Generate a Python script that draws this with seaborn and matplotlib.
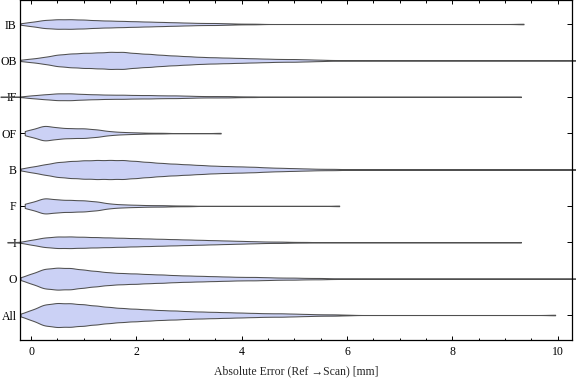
import numpy as np
import pandas as pd
import matplotlib
matplotlib.use("Agg")
import matplotlib.pyplot as plt
from matplotlib.ticker import MultipleLocator
import seaborn as sns

# categories, top to bottom
CATEGORIES = ["IB", "OB", "IF", "OF", "B", "F", "I", "O", "All"]

# bin centres in mm (0.25 mm apart, 0 .. 6 mm)
BINS = np.arange(0, 6.01, 0.25)

# relative counts per bin
IB_COUNTS = [6, 12, 14, 14, 13, 11, 10, 9, 8, 7, 6, 5, 4, 3, 3, 2, 1, 1, 0, 0, 0, 0, 0, 0, 0]
OB_COUNTS = [5, 10, 17, 20, 22, 23, 25, 25, 21, 19, 16, 14, 12, 10, 9, 8, 7, 6, 5, 4, 4, 3, 2, 1, 1]
IF_COUNTS = [4, 7, 10, 10, 8, 7, 6, 6, 5, 5, 4, 4, 3, 2, 2, 2, 1, 1, 0, 0, 0, 0, 0, 0, 0]
OF_COUNTS = [9, 21, 15, 13, 13, 10, 5, 3, 2, 1, 1, 0, 0, 0, 0, 0, 0, 0, 0, 0, 0, 0, 0, 0, 0]
B_COUNTS = [8, 15, 22, 25, 27, 28, 28, 28, 25, 22, 19, 17, 15, 13, 11, 10, 9, 8, 6, 5, 4, 3, 2, 2, 1]
F_COUNTS = [9, 22, 17, 16, 15, 12, 6, 4, 3, 2, 2, 1, 1, 0, 0, 0, 0, 0, 0, 0, 0, 0, 0, 0, 0]
I_COUNTS = [7, 14, 17, 17, 16, 15, 14, 13, 12, 11, 10, 9, 8, 7, 6, 5, 4, 3, 2, 2, 1, 1, 0, 0, 0]
O_COUNTS = [14, 29, 32, 31, 26, 22, 18, 16, 15, 13, 12, 10, 9, 8, 7, 6, 5, 5, 4, 3, 3, 2, 2, 1, 1]
ALL_COUNTS = [14, 31, 35, 34, 31, 27, 23, 20, 18, 16, 14, 13, 11, 10, 9, 8, 7, 6, 5, 5, 4, 3, 2, 2, 1]

# smallest and largest values (mm)
IB_EXTREMES = [-0.2, 9.35]
OB_EXTREMES = [-0.2, 10.4]
IF_EXTREMES = [-0.58, 9.3]
OF_EXTREMES = [-0.12, 3.6]
B_EXTREMES = [-0.2, 10.4]
F_EXTREMES = [-0.12, 5.85]
I_EXTREMES = [-0.45, 9.3]
O_EXTREMES = [-0.2, 10.4]
ALL_EXTREMES = [-0.2, 9.95]

COUNTS = [IB_COUNTS, OB_COUNTS, IF_COUNTS, OF_COUNTS, B_COUNTS,
          F_COUNTS, I_COUNTS, O_COUNTS, ALL_COUNTS]
EXTREMES = [IB_EXTREMES, OB_EXTREMES, IF_EXTREMES, OF_EXTREMES, B_EXTREMES,
            F_EXTREMES, I_EXTREMES, O_EXTREMES, ALL_EXTREMES]

FILL = "#cbd1f5"
EDGE = "#505050"
BW = 0.13          # kde bandwidth in mm
WIDEST = 0.66      # width of the widest violin (category units)

# long-form table
frames = []
for cat, counts, ext in zip(CATEGORIES, COUNTS, EXTREMES):
    vals = np.concatenate([np.repeat(BINS, counts), ext])
    frames.append(pd.DataFrame({"cat": cat, "err": vals}))
df = pd.concat(frames, ignore_index=True)
peak_max = max(max(c) for c in COUNTS)

sns.set_style("ticks")
plt.rcParams["font.family"] = ["Liberation Serif", "DejaVu Serif"]

fig = plt.figure(figsize=(5.76, 3.81), dpi=100)
ax = fig.add_axes([20 / 576, 41 / 381, 552 / 576, 340 / 381])

# one call per violin so each gets its own width
for cat, counts in zip(CATEGORIES, COUNTS):
    sns.violinplot(
        data=df[df["cat"] == cat], x="err", y="cat", order=CATEGORIES,
        orient="h", color=FILL, saturation=1, inner=None, cut=0,
        density_norm="width", width=WIDEST * max(counts) / peak_max,
        bw_method=lambda k: BW / np.std(k.dataset, ddof=1),
        gridsize=600, linewidth=0.75, linecolor=EDGE, ax=ax,
    )

for coll in ax.collections:
    coll.set_clip_on(False)

ax.set_xlim(-0.21, 10.27)
ax.set_ylim(8.687, -0.66)

ax.xaxis.set_major_locator(MultipleLocator(2))
ax.xaxis.set_minor_locator(MultipleLocator(0.5))
ax.tick_params(axis="x", which="both", direction="in", top=True, bottom=True,
               labeltop=False, labelsize=8.5, colors="black", pad=4.5, width=0.7)
ax.tick_params(axis="x", which="major", length=3.2)
ax.tick_params(axis="x", which="minor", length=1.8)
ax.tick_params(axis="y", direction="in", left=True, right=True, labelright=False,
               length=3.6, labelsize=8.5, colors="black", pad=2.5, width=0.7)

for sp in ax.spines.values():
    sp.set_color("black")
    sp.set_linewidth(0.9)

ax.set_ylabel("")
ax.set_xlabel("Absolute Error (Ref \u2192Scan) [mm]", fontsize=8.5, labelpad=5)

fig.savefig("out.png", dpi=100)
